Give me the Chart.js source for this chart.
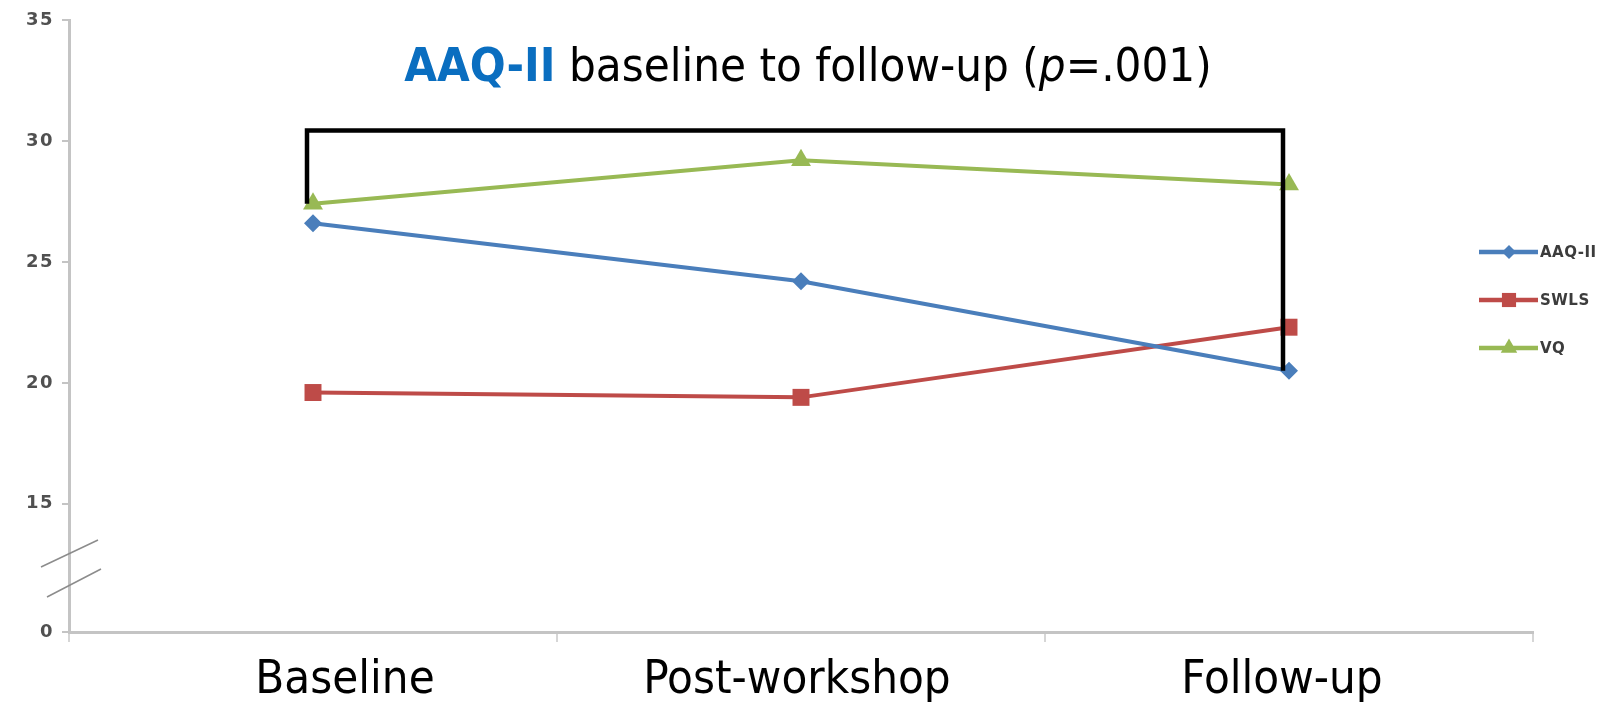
<!DOCTYPE html>
<html>
<head>
<meta charset="utf-8">
<script src="https://cdn.jsdelivr.net/npm/chart.js@4.4.1/dist/chart.umd.min.js"></script>
<style>
  html, body { margin: 0; padding: 0; background: #ffffff; }
  #wrap { width: 1624px; height: 702px; }
</style>
</head>
<body>
<div id="wrap"><canvas id="chart" width="1624" height="702"></canvas></div>
<script>
// Measurement points
const categories = ['Baseline', 'Post-workshop', 'Follow-up'];

// Mean scores per measure
const aaqValues  = [26.6, 24.2, 20.5];
const swlsValues = [19.6, 19.4, 22.3];
const vqValues   = [27.4, 29.2, 28.2];

const seriesNames = ['AAQ-II', 'SWLS', 'VQ'];

// Broken y axis: the bottom of the scale is labelled 0
const yTickValues = [15, 20, 25, 30, 35];
const yBreakValue = 9.7;
const yBreakLabel = '0';
const yMax = 35;

// Significance bracket: spans baseline to follow-up above the lines
const bracketTopValue = 30.43;
const bracketLeftEnd = vqValues[0];
const bracketRightEnd = aaqValues[2];

const titleParts = [
  { text: 'AAQ-II', color: '#0A6EC0', weight: 'bold', style: 'normal' },
  { text: ' baseline to follow-up (', color: '#000000', weight: 'normal', style: 'normal' },
  { text: 'p', color: '#000000', weight: 'normal', style: 'italic' },
  { text: '=.001)', color: '#000000', weight: 'normal', style: 'normal' }
];

const COLORS = ['#4A7EBB', '#BE4B48', '#98B954'];
const STYLES = ['rectRot', 'rect', 'triangle'];
const RADII = [9, 12, 11.5];
const AXIS_GREY = '#C4C4C4';
const FONT_COND = '"DejaVu Sans Condensed", "DejaVu Sans", sans-serif';
const FONT_SANS = '"DejaVu Sans", Verdana, sans-serif';

// Category labels sit slightly off the category centres
const LABEL_SHIFT = [32, -4, -7];

const valueSets = [aaqValues, swlsValues, vqValues];

const datasets = valueSets.map((vals, i) => ({
  label: seriesNames[i],
  data: vals,
  borderColor: COLORS[i],
  backgroundColor: COLORS[i],
  borderWidth: 4,
  pointStyle: STYLES[i],
  pointRadius: RADII[i],
  pointHoverRadius: RADII[i],
  pointBorderWidth: 0,
  pointBackgroundColor: COLORS[i],
  tension: 0,
  fill: false
}));

// Title with mixed colours and an italic p
const titlePlugin = {
  id: 'mixedTitle',
  afterDraw(chart) {
    const ctx = chart.ctx;
    const size = 47;
    ctx.save();
    ctx.letterSpacing = '0px';
    ctx.textBaseline = 'alphabetic';
    const fontFor = p => `${p.style} ${p.weight} ${size}px ${FONT_COND}`;
    let total = 0;
    titleParts.forEach(p => { ctx.font = fontFor(p); total += ctx.measureText(p.text).width; });
    let x = 808 - total / 2;
    const y = 81;
    titleParts.forEach(p => {
      ctx.font = fontFor(p);
      ctx.fillStyle = p.color;
      ctx.fillText(p.text, x, y);
      x += ctx.measureText(p.text).width;
    });
    ctx.restore();
  }
};

// Category labels under the x axis
const categoryLabelPlugin = {
  id: 'categoryLabels',
  afterDraw(chart) {
    const ctx = chart.ctx;
    const xs = chart.scales.x;
    ctx.save();
    ctx.letterSpacing = '0px';
    ctx.font = `47px ${FONT_COND}`;
    ctx.fillStyle = '#000000';
    ctx.textAlign = 'center';
    ctx.textBaseline = 'alphabetic';
    chart.data.labels.forEach((lab, i) => {
      ctx.fillText(lab, xs.getPixelForValue(i) + LABEL_SHIFT[i], 693);
    });
    ctx.restore();
  }
};

// Bracket joining baseline and follow-up
const bracketPlugin = {
  id: 'bracket',
  afterDatasetsDraw(chart) {
    const { ctx, scales } = chart;
    const xs = scales.x, ys = scales.y;
    const xl = xs.getPixelForValue(0) - 6;
    const xr = xs.getPixelForValue(2) - 6;
    const yt = ys.getPixelForValue(bracketTopValue);
    ctx.save();
    ctx.strokeStyle = '#000000';
    ctx.lineWidth = 4.5;
    ctx.lineJoin = 'miter';
    ctx.beginPath();
    ctx.moveTo(xl, ys.getPixelForValue(bracketLeftEnd));
    ctx.lineTo(xl, yt);
    ctx.lineTo(xr, yt);
    ctx.lineTo(xr, ys.getPixelForValue(bracketRightEnd));
    ctx.stroke();
    ctx.restore();
  }
};

// Axis-break marks across the y axis
const breakPlugin = {
  id: 'axisBreak',
  afterDraw(chart) {
    const { ctx, chartArea } = chart;
    const x0 = chartArea.left;
    const yb = chartArea.bottom;
    ctx.save();
    ctx.strokeStyle = '#8C8C8C';
    ctx.lineWidth = 1.5;
    ctx.beginPath();
    ctx.moveTo(x0 - 28, yb - 65); ctx.lineTo(x0 + 29, yb - 92);
    ctx.moveTo(x0 - 22, yb - 35); ctx.lineTo(x0 + 32, yb - 63);
    ctx.stroke();
    ctx.restore();
  }
};

// Wider tracking for the y tick labels
const trackingPlugin = {
  id: 'tickTracking',
  beforeDraw(chart) { chart.ctx.letterSpacing = '1.5px'; },
  afterDraw(chart) { chart.ctx.letterSpacing = '0px'; }
};

// Legend on the right: line with marker, then name
const legendPlugin = {
  id: 'sideLegend',
  afterDraw(chart) {
    const ctx = chart.ctx;
    const rows = [252, 300, 348];
    const legendRadii = [7, 10, 9.5];
    ctx.save();
    ctx.letterSpacing = '0.5px';
    chart.data.datasets.forEach((ds, i) => {
      const y = rows[i];
      ctx.strokeStyle = ds.borderColor;
      ctx.lineWidth = 4.5;
      ctx.beginPath();
      ctx.moveTo(1479, y);
      ctx.lineTo(1538, y);
      ctx.stroke();
      ctx.fillStyle = ds.borderColor;
      Chart.helpers.drawPoint(ctx, { pointStyle: ds.pointStyle, radius: legendRadii[i], borderWidth: 0 }, 1509, y);
      ctx.fillStyle = '#3C3C3C';
      ctx.font = `bold 15px ${FONT_SANS}`;
      ctx.textBaseline = 'middle';
      ctx.fillText(ds.label, 1540, y + 1);
    });
    ctx.restore();
  }
};

new Chart(document.getElementById('chart'), {
  type: 'line',
  data: { labels: categories, datasets },
  options: {
    responsive: false,
    devicePixelRatio: 1,
    animation: false,
    layout: { padding: { top: 20, right: 91, left: 0, bottom: 0 } },
    plugins: { legend: { display: false }, tooltip: { enabled: false }, title: { display: false } },
    scales: {
      x: {
        type: 'category',
        offset: true,
        grid: {
          offset: true,
          drawOnChartArea: false,
          drawTicks: true,
          tickLength: 10,
          color: '#D6D6D6',
          lineWidth: 2
        },
        border: { color: AXIS_GREY, width: 3 },
        ticks: { display: false },
        afterFit(scale) { scale.height = 70; }
      },
      y: {
        min: yBreakValue,
        max: yMax,
        afterBuildTicks(scale) {
          scale.ticks = [yBreakValue, ...yTickValues].map(v => ({ value: v }));
        },
        grid: {
          drawOnChartArea: false,
          drawTicks: true,
          tickLength: 7,
          color: AXIS_GREY,
          lineWidth: 2
        },
        border: { color: AXIS_GREY, width: 3 },
        ticks: {
          color: '#505050',
          padding: 8,
          font: { family: FONT_SANS, size: 18, weight: 'bold' },
          callback: v => (v === yBreakValue ? yBreakLabel : String(v))
        },
        afterFit(scale) { scale.width = 69; }
      }
    }
  },
  plugins: [trackingPlugin, titlePlugin, bracketPlugin, breakPlugin, categoryLabelPlugin, legendPlugin]
});
</script>
</body>
</html>
